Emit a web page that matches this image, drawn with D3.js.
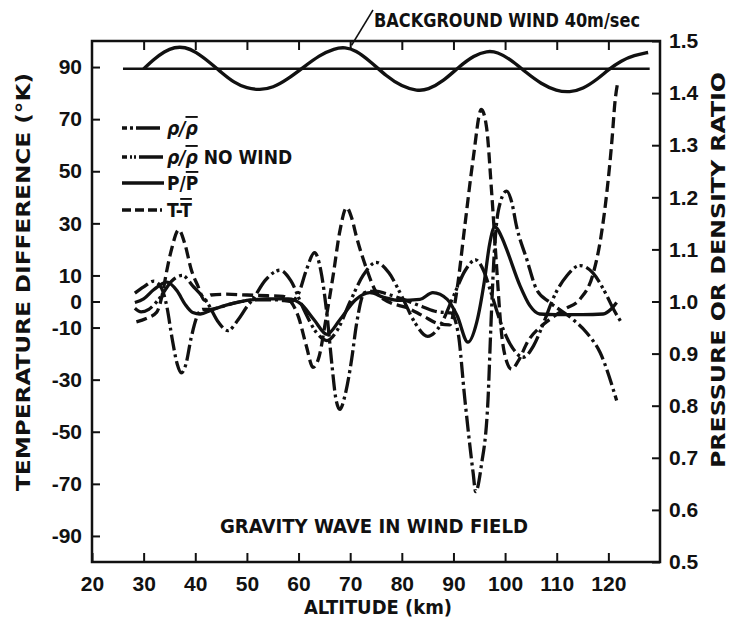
<!DOCTYPE html>
<html>
<head>
<meta charset="utf-8">
<script src="https://cdn.jsdelivr.net/npm/d3@7"></script>
<style>
  body { margin: 0; background: #fff; }
  svg { display: block; }
  .tick text { font-family: "Liberation Sans", Arial, sans-serif; font-weight: bold; font-size: 21px; fill: #111; }
  .tick line { stroke: #111; stroke-width: 2; }
  .lbl { font-family: "Liberation Sans Narrow", "DejaVu Sans Condensed", sans-serif; font-weight: bold; fill: #111; }
</style>
</head>
<body>
<div id="chart"></div>
<script>

var width = 731;
var height = 624;

// axis ticks
var altTicks = [20, 30, 40, 50, 60, 70, 80, 90, 100, 110, 120];
var tempTicks = [90, 70, 50, 30, 10, 0, -10, -30, -50, -70, -90];
var ratioTicks = [1.5, 1.4, 1.3, 1.2, 1.1, 1.0, 0.9, 0.8, 0.7, 0.6, 0.5];

// T - Tbar, degrees K  [altitude km, value]
var tempDiff = [
  [28.6, -7.8], [30.5, -6.5], [32.5, -4.2], [33.7, 3.4], [34.4, 11], [35.4, 20], [36.8, 27.5],
  [38, 22], [39.2, 12.4], [40.5, 6], [41.8, 0.5], [43, 2.5], [46, 2.8], [50, 2.5], [54, 2.2],
  [57, 2], [58.5, 0], [60, -6], [61.5, -17], [62.8, -25.3], [64, -21], [65.2, -8], [66.7, 10],
  [68, 27], [69.3, 36], [70.3, 32], [71.2, 25], [73.2, 12.4], [75.1, 3.4], [77.7, -0.4],
  [80.9, -2.3], [84.1, -5.5], [87.4, -8.7], [89.3, -9], [90.6, 3.4], [92.2, 29], [93.8, 54.5],
  [95.4, 73.7], [96.4, 67], [97.4, 41.8], [98.3, 15], [99.3, -12], [100.3, -23], [101.3, -26],
  [102.5, -23], [104.5, -15], [106.7, -10], [108.7, -6.8], [111.5, -3], [114.5, 0.9],
  [117.1, 11], [118.5, 24], [119.7, 41.8], [120.7, 62], [121.3, 77], [121.8, 84]
];

// rho / rhobar (ratio)
var rhoRatio = [
  [28.3, 1.016], [30, 1.028], [32, 1.039], [33.5, 1.025], [34.5, 0.990], [35.5, 0.930],
  [36.5, 0.880], [37.3, 0.863], [38.2, 0.880], [39.2, 0.930], [40.5, 0.975], [41.5, 0.985],
  [43, 0.985], [45, 0.990], [48, 0.998], [52, 1.003], [56, 1.003], [58.5, 1.0], [60, 1.015],
  [61.5, 1.060], [63.1, 1.094], [64.3, 1.060], [65.5, 0.975], [66.5, 0.875], [67.2, 0.815],
  [68, 0.793], [69, 0.820], [70.3, 0.890], [71.2, 0.955], [72.8, 1.017], [75, 1.020],
  [77, 1.015], [80, 1.005], [84, 0.990], [87, 0.980], [89.5, 0.978], [90.9, 0.940],
  [92.2, 0.813], [93.8, 0.672], [94.3, 0.635], [95.4, 0.685], [96.7, 0.813], [97.2, 0.940],
  [97.8, 1.075], [98.7, 1.175], [100.3, 1.212], [101.3, 1.190], [102.2, 1.145], [104.2, 1.081],
  [106.1, 1.023], [108.7, 0.998], [113.1, 0.966], [115.8, 0.940], [118.4, 0.902], [121.6, 0.810]
];

// rho / rhobar, no wind (ratio)
var rhoNoWind = [
  [28.3, 0.987], [29.5, 0.980], [31, 0.985], [33, 1.005], [35.5, 1.040], [37.5, 1.050],
  [39.5, 1.030], [42.5, 0.995], [44.5, 0.960], [46.3, 0.944], [48.3, 0.965], [50, 0.990],
  [51.2, 1.005], [53.5, 1.040], [56.4, 1.060], [58.5, 1.040], [61, 0.985], [63.5, 0.940],
  [65.5, 0.925], [67.5, 0.945], [70, 1.000], [72.5, 1.050], [75, 1.075], [77.5, 1.055],
  [80, 1.010], [82.5, 0.960], [85, 0.933], [87.5, 0.955], [90, 1.010], [92.3, 1.060],
  [94.3, 1.080], [95.8, 1.060], [97.5, 1.010], [99.5, 0.950], [101.5, 0.910], [103.5, 0.893],
  [105.5, 0.915], [107.5, 0.960], [109.5, 1.010], [112, 1.050], [114.5, 1.069], [117, 1.055],
  [119.5, 1.015], [121, 0.985], [122.5, 0.960]
];

// P / Pbar (ratio)
var pressRatio = [
  [28.3, 0.998], [30, 1.005], [32, 1.023], [34.5, 1.037], [36.5, 1.020], [38, 0.995],
  [39.5, 0.979], [41, 0.976], [43, 0.983], [46, 0.993], [50, 1.002], [54, 1.005], [58, 1.005],
  [60.5, 0.995], [63, 0.965], [65.5, 0.937], [68, 0.965], [71, 1.003], [73.8, 1.017],
  [76.5, 1.008], [79.6, 1.002], [83.5, 1.004], [86, 1.017], [88.8, 1.004], [90.7, 0.973],
  [92.8, 0.922], [94.5, 0.960], [96, 1.040], [97, 1.110], [98, 1.143], [99.5, 1.120],
  [100.3, 1.100], [102.9, 1.030], [104.8, 0.992], [106.7, 0.976], [110, 0.975], [115, 0.975],
  [119, 0.976], [120.5, 0.985], [121.6, 0.998]
];

// background wind, drawn in the temperature frame
var windLine = [[26, 89.3], [128, 89.3]];
var windWave = [
  [30, 89.3], [32, 93], [34, 96], [36, 97.7], [38, 97.7], [40, 96], [43, 91.5], [45, 88],
  [47.5, 84], [50, 81.8], [52.5, 81.2], [55, 82], [58, 85.5], [61, 90], [64, 94.5], [67, 97.2],
  [69, 97.6], [71, 96.5], [74, 92], [77, 86.5], [80, 82.5], [83, 80.8], [85, 81.2], [88, 84.5],
  [91, 90], [94, 94.5], [96.5, 96.2], [98.5, 95.8], [101, 93], [104, 88], [107, 83.5],
  [110, 80.8], [112.5, 80.3], [115, 81.5], [118, 85.5], [120, 89], [122.5, 92.5], [125, 94.5],
  [127.7, 95.6]
];

var plotL = 92, plotR = 660, plotT = 41, plotB = 562;

var svg = d3.select("#chart")
  .append("svg")
  .attr("width", width)
  .attr("height", height);

var x = d3.scaleLinear().domain([20, 130]).range([plotL, plotR]);
var yT = d3.scaleLinear().domain([-100, 100]).range([plotB, plotT]);
var yR = d3.scaleLinear().domain([0.5, 1.5]).range([plotB, plotT]);

// axes
svg.append("g")
  .attr("transform", "translate(" + plotL + ",0)")
  .call(d3.axisLeft(yT).tickValues(tempTicks).tickSize(-8).tickPadding(10)
    .tickFormat(function(d){ return String(d); }))
  .call(function(g){ g.select(".domain").remove(); });

svg.append("g")
  .attr("transform", "translate(" + plotR + ",0)")
  .call(d3.axisRight(yR).tickValues(ratioTicks).tickSize(-8).tickPadding(9)
    .tickFormat(d3.format(".1f")))
  .call(function(g){ g.select(".domain").remove(); });

svg.append("g")
  .attr("transform", "translate(0," + plotB + ")")
  .call(d3.axisBottom(x).tickValues(altTicks).tickSize(-9).tickPadding(14)
    .tickFormat(function(d){ return String(d); }))
  .call(function(g){ g.select(".domain").remove(); });

svg.append("g")
  .attr("transform", "translate(0," + plotT + ")")
  .call(d3.axisTop(x).tickValues(altTicks.slice(1)).tickSize(-9).tickFormat(""))
  .call(function(g){ g.select(".domain").remove(); });

svg.append("rect")
  .attr("x", plotL).attr("y", plotT)
  .attr("width", plotR - plotL).attr("height", plotB - plotT)
  .attr("fill", "none").attr("stroke", "#111").attr("stroke-width", 2.5);

// curves
var lineT = d3.line().curve(d3.curveMonotoneX)
  .x(function(d){ return x(d[0]); })
  .y(function(d){ return yT(d[1]); });
var lineR = d3.line().curve(d3.curveMonotoneX)
  .x(function(d){ return x(d[0]); })
  .y(function(d){ return yR(d[1]); });

var series = [
  { data: rhoRatio, line: lineR, dash: "16,4,3,4" },
  { data: rhoNoWind, line: lineR, dash: "20,4,3,3,3,4" },
  { data: pressRatio, line: lineR, dash: null },
  { data: tempDiff, line: lineT, dash: "11,5" }
];

series.forEach(function(s){
  svg.append("path")
    .attr("d", s.line(s.data))
    .attr("fill", "none")
    .attr("stroke", "#111")
    .attr("stroke-width", 3.3)
    .attr("stroke-dasharray", s.dash);
});

svg.append("path")
  .attr("d", lineT(windLine))
  .attr("fill", "none").attr("stroke", "#111").attr("stroke-width", 2.5);

var waveLine = d3.line().curve(d3.curveBasis)
  .x(function(d){ return x(d[0]); })
  .y(function(d){ return yT(d[1]); });

svg.append("path")
  .attr("d", waveLine(windWave))
  .attr("fill", "none").attr("stroke", "#111").attr("stroke-width", 3.4);

// legend
var legendRows = [
  { dash: "5,3,3,3,24", y: 128, text: ["ρ/ρ", ""] },
  { dash: "5,3,2,2,2,3,24", y: 157, text: ["ρ/ρ", " NO WIND"] },
  { dash: null, y: 183, text: ["P/P", ""] },
  { dash: "9,4,9,4,9,3,2", y: 210, text: ["T-T", ""] }
];

legendRows.forEach(function(r, i){
  svg.append("line")
    .attr("x1", 122).attr("x2", 164)
    .attr("y1", r.y).attr("y2", r.y)
    .attr("stroke", "#111").attr("stroke-width", 3.3)
    .attr("stroke-dasharray", r.dash);
  var t = svg.append("text")
    .attr("class", "lbl")
    .attr("x", 167).attr("y", r.y + 7)
    .attr("font-size", 19);
  var base = r.text[0];
  var italic = i < 2;
  t.append("tspan").attr("font-style", italic ? "italic" : null).text(base.slice(0, 2));
  t.append("tspan").attr("font-style", italic ? "italic" : null)
    .attr("text-decoration", "overline").text(base.slice(2));
  if (r.text[1]) t.append("tspan").text(r.text[1]);
});

// titles
svg.append("text").attr("class", "lbl")
  .attr("transform", "translate(30,282) rotate(-90)")
  .attr("text-anchor", "middle").attr("font-size", 20)
  .attr("textLength", 418).attr("lengthAdjust", "spacingAndGlyphs")
  .text("TEMPERATURE DIFFERENCE (°K)");

svg.append("text").attr("class", "lbl")
  .attr("transform", "translate(725,270) rotate(-90)")
  .attr("text-anchor", "middle").attr("font-size", 19)
  .attr("textLength", 396).attr("lengthAdjust", "spacingAndGlyphs")
  .text("PRESSURE OR DENSITY RATIO");

svg.append("text").attr("class", "lbl")
  .attr("x", 378).attr("y", 614)
  .attr("text-anchor", "middle").attr("font-size", 20)
  .attr("textLength", 148).attr("lengthAdjust", "spacingAndGlyphs")
  .text("ALTITUDE (km)");

svg.append("text").attr("class", "lbl")
  .attr("x", 374).attr("y", 533)
  .attr("text-anchor", "middle").attr("font-size", 19)
  .attr("textLength", 308).attr("lengthAdjust", "spacingAndGlyphs")
  .text("GRAVITY WAVE IN WIND FIELD");

svg.append("text").attr("class", "lbl")
  .attr("x", 374).attr("y", 27)
  .attr("font-size", 20)
  .attr("textLength", 266).attr("lengthAdjust", "spacingAndGlyphs")
  .text("BACKGROUND WIND 40m/sec");

svg.append("line")
  .attr("x1", 373).attr("y1", 10)
  .attr("x2", x(69.5) + 4).attr("y2", yT(97.6) - 2)
  .attr("stroke", "#111").attr("stroke-width", 1.5);

</script>
</body>
</html>
